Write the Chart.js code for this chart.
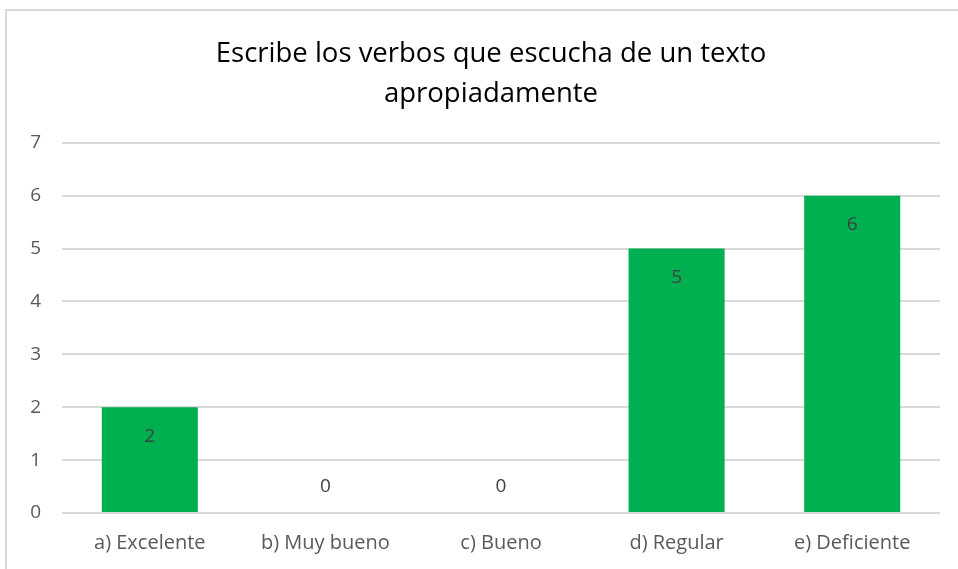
<!DOCTYPE html>
<html>
<head>
<meta charset="utf-8">
<script src="https://cdn.jsdelivr.net/npm/chart.js@4/dist/chart.umd.min.js"></script>
<style>
  html, body { margin: 0; padding: 0; background: #fff; }
  #wrap { position: relative; width: 958px; height: 569px; }
  #frame { position: absolute; left: 5px; top: 9px; width: 960px; height: 570px;
           border: 2px solid #d9d9d9; box-sizing: border-box; pointer-events: none; }
</style>
</head>
<body>
<div id="wrap">
  <canvas id="chart" width="958" height="569"></canvas>
  <div id="frame"></div>
</div>
<script>
const categories = ["a) Excelente", "b) Muy bueno", "c) Bueno", "d) Regular", "e) Deficiente"];
const values = [2, 0, 0, 5, 6];
const titleLines = ["Escribe los verbos que escucha de un texto", "apropiadamente"];

const FONT = "'Open Sans', Lato, sans-serif";

// etiquetas de datos (extremo interno)
const barLabels = {
  id: "barLabels",
  afterLayout(chart) {
    // el título del original está centrado en todo el marco, no sobre el área de trazado
    if (chart.titleBlock) { chart.titleBlock.left = 42; chart.titleBlock.right = 940; }
  },
  afterDatasetsDraw(chart) {
    const ctx = chart.ctx;
    const meta = chart.getDatasetMeta(0);
    ctx.save();
    ctx.font = "19px " + FONT;
    ctx.fillStyle = "#404040";
    ctx.textAlign = "center";
    ctx.textBaseline = "middle";
    meta.data.forEach((bar, i) => {
      const v = values[i];
      const y = v > 0 ? bar.y + 29 : bar.base - 26;
      ctx.fillText(String(v), bar.x, y);
    });
    ctx.restore();
  }
};

new Chart(document.getElementById("chart"), {
  type: "bar",
  data: {
    labels: categories,
    datasets: [{
      data: values,
      backgroundColor: "#00b050",
      borderWidth: 0,
      barPercentage: 0.547,
      categoryPercentage: 1
    }]
  },
  options: {
    responsive: false,
    animation: false,
    layout: { padding: { left: 0, right: 18, top: 0, bottom: 0 } },
    plugins: {
      legend: { display: false },
      tooltip: { enabled: false },
      title: {
        display: true,
        text: titleLines,
        color: "#000",
        font: { family: FONT, size: 27.5, weight: "normal", lineHeight: 1.45 },
        padding: { top: 34, bottom: 29 }
      }
    },
    scales: {
      x: {
        grid: { display: false },
        border: { display: false },
        ticks: { color: "#595959", font: { family: FONT, size: 20 }, padding: 10, maxRotation: 0 },
        afterFit(s) { s.height = 56; }
      },
      y: {
        min: 0, max: 7,
        grid: { color: "#d9d9d9", lineWidth: 2, drawTicks: false },
        border: { display: false },
        ticks: { stepSize: 1, color: "#595959", font: { family: FONT, size: 19 }, padding: 21 },
        afterFit(s) { s.width = 62; }
      }
    }
  },
  plugins: [barLabels]
});
</script>
</body>
</html>
